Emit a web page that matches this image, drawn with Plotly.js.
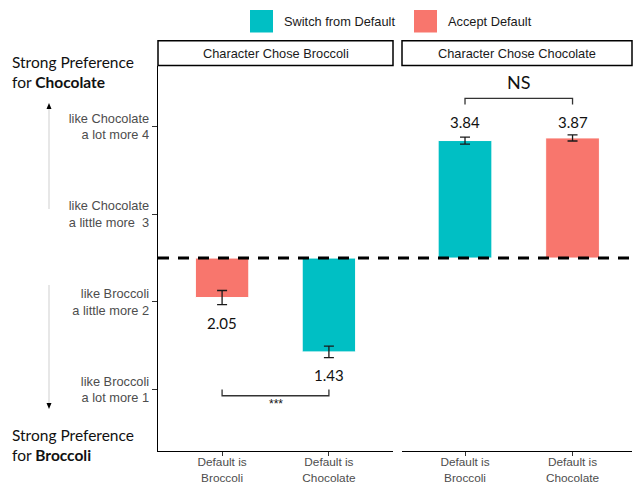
<!DOCTYPE html>
<html>
<head>
<meta charset="utf-8">
<script src="https://cdn.plot.ly/plotly-3.0.1.min.js"></script>
<style>html,body{margin:0;padding:0;background:#fff;}#chart{width:633px;height:484px;}</style>
</head>
<body>
<div id="chart"></div>
<script>
// ---- data ----
const categories = ["Default is<br>Broccoli", "Default is<br>Chocolate"];
const panels = ["Character Chose Broccoli", "Character Chose Chocolate"];
const groups = ["Switch from Default", "Accept Default"];
const broccoliValues = [2.05, 1.43];
const broccoliErrors = [0.08, 0.065];
const broccoliGroup = ["Accept Default", "Switch from Default"];
const chocolateValues = [3.84, 3.87];
const chocolateErrors = [0.04, 0.035];
const chocolateGroup = ["Switch from Default", "Accept Default"];
const broccoliLabelY = [1.76, 1.17];
const chocolateLabelY = [4.05, 4.05];
const baseline = 2.5;
const yTickVals = [1, 2, 3, 4];
const yTickText = ["like Broccoli<br>a lot more 1", "like Broccoli<br>a little more 2",
                   "like Chocolate<br>a little more\u00a0 3", "like Chocolate<br>a lot more 4"];
const sigBroccoli = {label: "***", low: 0.93, high: 1.0, textY: 0.84};
const sigChocolate = {label: "NS", low: 4.32, high: 4.25, textY: 4.51};

// ---- style ----
const colors = {"Switch from Default": "#00BFC4", "Accept Default": "#F8766D"};
const arial = "Liberation Sans";
const lato = "Lato";
const L = 158, PW = 474, T = 66, PH = 385;
const px = x => (x - L) / PW;
const py = y => (T + PH - y) / PH;

function barTrace(vals, grp, xa) {
  return {type: "bar", x: categories, y: vals.map(v => v - baseline), base: baseline,
    xaxis: xa, yaxis: "y", width: 0.5, showlegend: false, hoverinfo: "skip",
    marker: {color: grp.map(g => colors[g]), line: {color: "#ffffff", width: 1}}};
}
function errTrace(vals, errs, xa) {
  return {type: "scatter", mode: "markers", x: categories, y: vals, xaxis: xa, yaxis: "y",
    marker: {size: 1, opacity: 0}, showlegend: false, hoverinfo: "skip",
    error_y: {type: "data", array: errs, visible: true, color: "#1a1a1a", thickness: 1.3, width: 5}};
}
function bracketTrace(sig, xa) {
  return {type: "scatter", mode: "lines", xaxis: xa, yaxis: "y",
    x: [categories[0], categories[0], categories[1], categories[1]],
    y: [sig.high, sig.low, sig.low, sig.high], showlegend: false, hoverinfo: "skip",
    line: {color: "#333333", width: 1.3}};
}

const data = [
  barTrace(broccoliValues, broccoliGroup, "x"),
  barTrace(chocolateValues, chocolateGroup, "x2"),
  errTrace(broccoliValues, broccoliErrors, "x"),
  errTrace(chocolateValues, chocolateErrors, "x2"),
  bracketTrace(sigBroccoli, "x"),
  bracketTrace(sigChocolate, "x2")
];

const xCommon = {type: "category", showgrid: false, zeroline: false, showline: true,
  linecolor: "#000", linewidth: 1.3, ticks: "outside", ticklen: 4, tickcolor: "#333", tickwidth: 1,
  ticklabelstandoff: -4,
  tickfont: {family: arial, size: 11.8, color: "#4d4d4d"}, anchor: "y", fixedrange: true};

const annotations = [];
const ann = o => annotations.push(Object.assign({showarrow: false, yanchor: "middle", xanchor: "center"}, o));
// value labels
broccoliValues.forEach((v, i) => ann({xref: "x", yref: "y", x: categories[i], y: broccoliLabelY[i],
  text: v.toFixed(2), font: {family: lato, size: 15, color: "#111"}}));
chocolateValues.forEach((v, i) => ann({xref: "x2", yref: "y", x: categories[i], y: chocolateLabelY[i],
  text: v.toFixed(2), font: {family: lato, size: 15, color: "#111"}}));
// significance labels
ann({xref: "x", yref: "y", x: 0.5, y: sigBroccoli.textY, text: sigBroccoli.label,
  font: {family: arial, size: 12, color: "#111"}});
ann({xref: "x2", yref: "y", x: 0.5, y: sigChocolate.textY, text: sigChocolate.label,
  font: {family: lato, size: 18, color: "#111"}});
// strip titles
ann({xref: "x domain", yref: "paper", x: 0.5, y: py(53), text: panels[0],
  font: {family: arial, size: 12.8, color: "#1a1a1a"}});
ann({xref: "x2 domain", yref: "paper", x: 0.5, y: py(53), text: panels[1],
  font: {family: arial, size: 12.8, color: "#1a1a1a"}});
// legend
ann({xref: "paper", yref: "paper", x: px(282), y: py(21.5), xanchor: "left", text: groups[0],
  font: {family: arial, size: 12.8, color: "#1a1a1a"}});
ann({xref: "paper", yref: "paper", x: px(446), y: py(21.5), xanchor: "left", text: groups[1],
  font: {family: arial, size: 12.8, color: "#1a1a1a"}});
// side labels
ann({xref: "paper", yref: "paper", x: px(10), y: py(72), xanchor: "left", align: "left",
  text: "Strong Preference<br>for <b>Chocolate</b>", font: {family: lato, size: 15.5, color: "#111"}});
ann({xref: "paper", yref: "paper", x: px(10), y: py(445), xanchor: "left", align: "left",
  text: "Strong Preference<br>for <b>Broccoli</b>", font: {family: lato, size: 15.5, color: "#111"}});

const shapes = [
  // strips
  {type: "rect", xref: "x domain", yref: "paper", x0: 0, x1: 1, y0: py(65.5), y1: py(40.7), layer: "below",
   line: {color: "#000", width: 1.5}, fillcolor: "#fff"},
  {type: "rect", xref: "x2 domain", yref: "paper", x0: 0, x1: 1, y0: py(65.5), y1: py(40.7), layer: "below",
   line: {color: "#000", width: 1.5}, fillcolor: "#fff"},
  // legend keys
  {type: "rect", xref: "paper", yref: "paper", x0: px(250), x1: px(273), y0: py(32.5), y1: py(10),
   line: {width: 0}, fillcolor: colors[groups[0]]},
  {type: "rect", xref: "paper", yref: "paper", x0: px(414), x1: px(437), y0: py(32.5), y1: py(10),
   line: {width: 0}, fillcolor: colors[groups[1]]},
  // baseline dashed
  {type: "line", xref: "paper", yref: "y", x0: 0, x1: 1, y0: baseline, y1: baseline, layer: "above",
   line: {color: "#000", width: 3, dash: "11px,9px"}},
  // arrows
  {type: "line", xref: "paper", yref: "paper", x0: px(49), x1: px(49), y0: py(108), y1: py(209),
   line: {color: "#cfcfcf", width: 1}},
  {type: "line", xref: "paper", yref: "paper", x0: px(49), x1: px(49), y0: py(285), y1: py(404),
   line: {color: "#cfcfcf", width: 1}},
  {type: "path", xref: "paper", yref: "paper",
   path: `M ${px(49)} ${py(103)} L ${px(51.5)} ${py(109)} L ${px(46.5)} ${py(109)} Z`,
   fillcolor: "#000", line: {width: 0}},
  {type: "path", xref: "paper", yref: "paper",
   path: `M ${px(49)} ${py(409)} L ${px(51.5)} ${py(403)} L ${px(46.5)} ${py(403)} Z`,
   fillcolor: "#000", line: {width: 0}}
];

const layout = {
  width: 633, height: 484,
  margin: {l: L, r: 633 - L - PW, t: T, b: 484 - T - PH, pad: 0},
  paper_bgcolor: "#fff", plot_bgcolor: "rgba(0,0,0,0)",
  showlegend: false,
  bargap: 0,
  xaxis: Object.assign({}, xCommon, {domain: [0, px(393)], range: [-0.6, 1.6]}),
  xaxis2: Object.assign({}, xCommon, {domain: [px(402), 1], range: [-0.586, 1.553]}),
  yaxis: {range: [0.3, 4.69], tickvals: yTickVals, ticktext: yTickText, showgrid: false, zeroline: false,
    showline: true, linecolor: "#000", linewidth: 1.3, ticks: "outside", ticklen: 5, tickcolor: "#333",
    tickfont: {family: arial, size: 12.8, color: "#4d4d4d"}, fixedrange: true},
  annotations: annotations,
  shapes: shapes
};

Plotly.newPlot("chart", data, layout, {displayModeBar: false, staticPlot: true});
</script>
</body>
</html>
